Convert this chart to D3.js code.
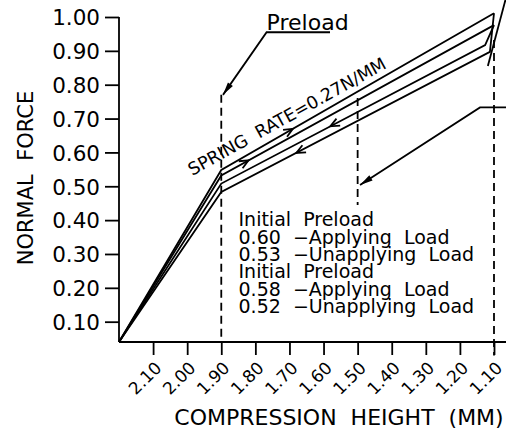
<!DOCTYPE html>
<html><head><meta charset="utf-8">
<script src="https://cdn.jsdelivr.net/npm/d3@7"></script>
<style>
html,body{margin:0;padding:0;background:#fff;}
#wrap{position:relative;width:506px;height:432px;}
svg{position:absolute;left:0;top:0;}
svg text{font-family:"DejaVu Sans",sans-serif;fill:#000;white-space:pre;}
#legend{position:absolute;font-family:"DejaVu Sans",sans-serif;color:#000;white-space:pre;margin:0;}
</style></head><body>
<div id="wrap"><svg id="c" width="506" height="432"></svg><div id="legend"></div></div>
<script>
// ---- data ----
const heightTicks = [2.10, 2.00, 1.90, 1.80, 1.70, 1.60, 1.50, 1.40, 1.30, 1.20, 1.10];
const heightLabels = ["2.10","2.00","1.90","1.80","1.70","1.60","1.50","1.40","1.30","1.20","1.10"];
const forceTicks = [0.10, 0.20, 0.30, 0.40, 0.50, 0.60, 0.70, 0.80, 0.90, 1.00];
const forceLabels = ["0.10","0.20","0.30","0.40","0.50","0.60","0.70","0.80","0.90","1.00"];
// [compression height (mm), normal force]
const applyingA   = [[2.20, 0.04], [1.90, 0.548], [1.10, 1.011]];
const applyingB   = [[2.20, 0.04], [1.90, 0.532], [1.10, 0.976]];
const unapplyingB = [[1.10, 0.976], [1.126, 0.917], [1.90, 0.508], [2.20, 0.04]];
const unapplyingA = [[1.10, 1.011], [1.112, 0.897], [1.90, 0.483], [2.20, 0.04]];
const legendLines = ["Initial  Preload", "0.60  \u2212Applying  Load", "0.53  \u2212Unapplying  Load",
                     "Initial  Preload", "0.58  \u2212Applying  Load", "0.52  \u2212Unapplying  Load"];
const springLabel = "SPRING  RATE=0.27N/MM";
const preloadLabel = "Preload";
const xTitle = "COMPRESSION  HEIGHT  (MM)";
const yTitle = "NORMAL  FORCE";

// ---- scales ----
const svg = d3.select("#c");
const x = d3.scaleLinear().domain([2.20, 1.10]).range([119, 494]);
const y = d3.scaleLinear().domain([0.04, 1.00]).range([342, 17]);
const line = d3.line().x(d => x(d[0])).y(d => y(d[1]));
const SW = 1.8;

// ---- axes ----
const xAxis = d3.axisBottom(x).tickValues(heightTicks).tickFormat((d, i) => heightLabels[i]).tickSize(13).tickSizeOuter(0);
const gx = svg.append("g").attr("transform", `translate(0,${y(0.04)})`).call(xAxis);
gx.select(".domain").remove();
gx.selectAll("line").attr("stroke", "#000").attr("stroke-width", SW);
gx.selectAll("text")
  .attr("font-size", 17).attr("text-anchor", "end")
  .attr("y", 0).attr("dy", 0)
  .attr("transform", `translate(9,27) rotate(-45)`);
svg.append("line").attr("x1", x(2.20)).attr("x2", 506).attr("y1", y(0.04)).attr("y2", y(0.04))
  .attr("stroke", "#000").attr("stroke-width", SW);

const yAxis = d3.axisLeft(y).tickValues(forceTicks).tickFormat((d, i) => forceLabels[i]).tickSize(14).tickSizeOuter(0).tickPadding(5);
const gy = svg.append("g").attr("transform", `translate(${x(2.20)},0)`).call(yAxis);
gy.select(".domain").remove();
gy.selectAll("line").attr("stroke", "#000").attr("stroke-width", SW);
gy.selectAll("text").attr("font-size", 21.5).attr("dy", "0.36em");
svg.append("line").attr("x1", x(2.20)).attr("x2", x(2.20)).attr("y1", y(0.04)).attr("y2", y(1.00))
  .attr("stroke", "#000").attr("stroke-width", SW);

// ---- titles ----
svg.append("text").attr("x", 339).attr("y", 425).attr("text-anchor", "middle").attr("font-size", 22).text(xTitle);
svg.append("text").attr("transform", "translate(33,178) rotate(-90)").attr("text-anchor", "middle").attr("font-size", 21).text(yTitle);

// ---- dashed guides ----
const dashed = [[1.90, 0.77, 0.04], [1.50, 0.761, 0.445], [1.10, 0.932, 0.0]];
svg.selectAll(".dash").data(dashed).enter().append("line")
  .attr("x1", d => x(d[0])).attr("x2", d => x(d[0]))
  .attr("y1", d => y(d[1])).attr("y2", d => y(d[2]))
  .attr("stroke", "#000").attr("stroke-width", SW).attr("stroke-dasharray", "8,5");

// ---- data lines ----
[applyingA, applyingB, unapplyingB, unapplyingA].forEach(s => {
  svg.append("path").attr("d", line(s)).attr("fill", "none").attr("stroke", "#000")
    .attr("stroke-width", SW).attr("stroke-linejoin", "miter");
});

// direction chevrons on lines
function pointAt(series, h) {
  for (let i = 0; i < series.length - 1; i++) {
    const a = series[i], b = series[i + 1];
    const lo = Math.min(a[0], b[0]), hi = Math.max(a[0], b[0]);
    if (h >= lo && h <= hi && a[0] !== b[0]) {
      const t = (h - a[0]) / (b[0] - a[0]);
      return { p: [x(h), y(a[1] + t * (b[1] - a[1]))], a: [x(a[0]), y(a[1])], b: [x(b[0]), y(b[1])] };
    }
  }
}
function chevron(series, h, towardRight) {
  const r = pointAt(series, h);
  let dx = r.b[0] - r.a[0], dy = r.b[1] - r.a[1];
  const len = Math.hypot(dx, dy); dx /= len; dy /= len;
  if ((dx > 0) !== towardRight) { dx = -dx; dy = -dy; }
  const L = 9, W = 4;
  const bx = r.p[0] - dx * L, by = r.p[1] - dy * L;
  const nx = -dy, ny = dx;
  svg.append("path")
    .attr("d", `M${bx + nx * W},${by + ny * W}L${r.p[0]},${r.p[1]}L${bx - nx * W},${by - ny * W}`)
    .attr("fill", "none").attr("stroke", "#000").attr("stroke-width", SW);
}
chevron(applyingA, 1.69, true);
chevron(applyingB, 1.82, true);
chevron(unapplyingB, 1.58, false);
chevron(unapplyingA, 1.68, false);

// ---- annotations ----
function arrowHead(from, to) {
  const [x1, y1] = [x(from[0]), y(from[1])], [x2, y2] = [x(to[0]), y(to[1])];
  let dx = x2 - x1, dy = y2 - y1; const len = Math.hypot(dx, dy); dx /= len; dy /= len;
  const L = 13, W = 3;
  const bx = x2 - dx * L, by = y2 - dy * L;
  svg.append("path").attr("d", `M${x2},${y2}L${bx - dy * W},${by + dx * W}L${bx + dy * W},${by - dx * W}Z`).attr("fill", "#000");
}
// Preload leader
const preloadLeader = [[1.581, 0.955], [1.767, 0.955], [1.895, 0.77]];
svg.append("path").attr("d", line(preloadLeader)).attr("fill", "none").attr("stroke", "#000").attr("stroke-width", SW);
arrowHead(preloadLeader[1], preloadLeader[2]);
svg.append("text").attr("x", x(1.767)).attr("y", y(0.955) - 2.5).attr("font-size", 22).text(preloadLabel);

// Right leader
const rightLeader = [[1.064, 0.733], [1.141, 0.733], [1.493, 0.504]];
svg.append("path").attr("d", line(rightLeader)).attr("fill", "none").attr("stroke", "#000").attr("stroke-width", SW);
arrowHead(rightLeader[1], rightLeader[2]);

// top-right leader
const topLeader = [[1.065, 1.056], [1.118, 0.855]];
svg.append("path").attr("d", line(topLeader)).attr("fill", "none").attr("stroke", "#000").attr("stroke-width", SW);

// spring rate label
svg.append("text").attr("transform", `translate(${x(2.00) + 5},176) rotate(-29)`).attr("font-size", 17.5).text(springLabel);

// legend text block (one multi-line text block)
d3.select("#legend")
  .style("left", "238.5px").style("top", "211.2px")
  .style("font-size", "19px").style("line-height", "17.4px")
  .text(legendLines.join("\n"));
</script></body></html>
